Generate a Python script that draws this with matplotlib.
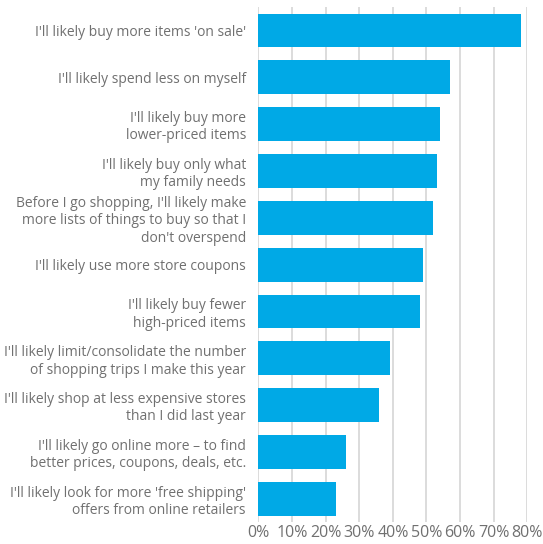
import matplotlib.pyplot as plt
from matplotlib.ticker import FuncFormatter

categories = [
    "I'll likely buy more items 'on sale'",
    "I'll likely spend less on myself",
    "I'll likely buy more\nlower-priced items",
    "I'll likely buy only what\nmy family needs",
    "Before I go shopping, I'll likely make\nmore lists of things to buy so that I\ndon't overspend",
    "I'll likely use more store coupons",
    "I'll likely buy fewer\nhigh-priced items",
    "I'll likely limit/consolidate the number\nof shopping trips I make this year",
    "I'll likely shop at less expensive stores\nthan I did last year",
    "I'll likely go online more \u2013 to find\nbetter prices, coupons, deals, etc.",
    "I'll likely look for more 'free shipping'\noffers from online retailers",
]
values = [78, 57, 54, 53, 52, 49, 48, 39, 36, 26, 23]
ticks = [0, 10, 20, 30, 40, 50, 60, 70, 80]

plt.rcParams['font.family'] = ['Open Sans', 'DejaVu Sans']
text_color = '#707070'

fig = plt.figure(figsize=(5.43, 5.44), dpi=100)
ax = fig.add_axes([0.476, 0.040, 0.495, 0.947])

y = list(range(len(categories)))
ax.barh(y, values, height=0.72, color='#00a9e6', zorder=3)
ax.set_yticks(y)
ax.set_yticklabels(categories, fontsize=10, color=text_color, linespacing=1.2)
ax.set_ylim(len(categories) - 0.5, -0.5)
ax.set_xlim(0, 80)
ax.set_xticks(ticks)
ax.xaxis.set_major_formatter(FuncFormatter(lambda v, p: f"{v:.0f}%"))
ax.tick_params(axis='x', labelsize=11.5, colors=text_color, length=0, pad=2)
ax.tick_params(axis='y', length=0, pad=9)
ax.grid(axis='x', color='#d6d6d6', linewidth=1.2, zorder=0)
for s in ax.spines.values():
    s.set_visible(False)

fig.savefig('out.png', dpi=100)
